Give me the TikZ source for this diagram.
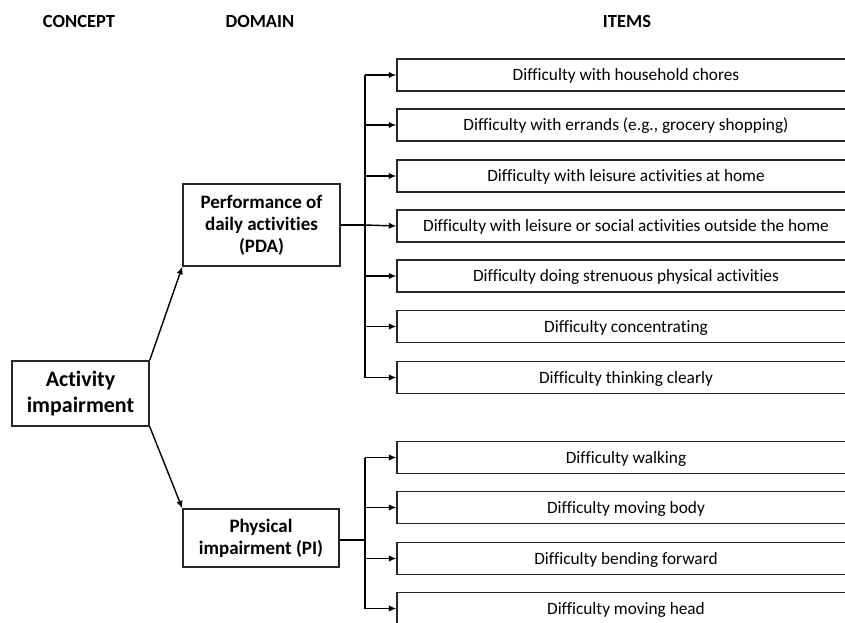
\documentclass[tikz,border=0pt]{standalone}
\usepackage{fontspec}
\setmainfont{Carlito}[Ligatures=CommonOff]
\usepackage{tikz}
\tikzstyle{hd}=[font=\bfseries\fontsize{18.5}{22}\selectfont]
\tikzstyle{cbox}=[shape=rectangle,
                draw=black!85,
                line width=1.4pt,
                align=center,
                font=\bfseries\fontsize{22}{26}\selectfont]
\tikzstyle{dbox}=[shape=rectangle,
                draw=black!85,
                line width=1.4pt,
                align=center,
                inner sep=0pt,
                font=\bfseries\fontsize{19}{22}\selectfont]
\tikzstyle{ibox}=[shape=rectangle,
                draw=black!85,
                line width=1.4pt,
                minimum width=458pt,
                minimum height=32pt,
                inner sep=0pt,
                text height=12pt,
                text depth=0.5pt,
                font=\fontsize{17.3}{20}\selectfont]
\usetikzlibrary{positioning, calc, arrows.meta}

\begin{document}
\begin{tikzpicture}[>={Latex[length=7.5pt, width=6.5pt]}, line width=1.4pt, x=1pt, y=-1pt]
\useasboundingbox (0,0) rectangle (845,623);

% headings
\node[hd] (hconcept) at (79,21) {CONCEPT};
\node[hd] (hdomain) at (260,21) {DOMAIN};
\node[hd] (hitems) at (627,21) {ITEMS};

% concept and domains
\node[cbox, minimum width=137pt, minimum height=65pt] (act) at (80.5,393.5) {Activity\\impairment};
\node[dbox, minimum width=157pt, minimum height=82pt] (pda) at (261.5,225) {Performance of\\daily activities\\(PDA)};
\node[dbox, minimum width=156pt, minimum height=58pt] (pi) at (261,538) {Physical\\impairment (PI)};

% items
\node[ibox] (i1) at (626,75)  {Difficulty with household chores};
\node[ibox] (i2) at (626,125) {Difficulty with errands (e.g., grocery shopping)};
\node[ibox] (i3) at (626,176) {Difficulty with leisure activities at home};
\node[ibox] (i4) at (626,226) {Difficulty with leisure or social activities outside the home};
\node[ibox] (i5) at (626,276) {Difficulty doing strenuous physical activities};
\node[ibox] (i6) at (626,326.5) {Difficulty concentrating};
\node[ibox] (i7) at (626,377.5) {Difficulty thinking clearly};

\node[ibox] (i8) at (626,457.5)  {Difficulty walking};
\node[ibox] (i9) at (626,507.5)  {Difficulty moving body};
\node[ibox] (i10) at (626,558.5) {Difficulty bending forward};
\node[ibox] (i11) at (626,608.5) {Difficulty moving head};

\coordinate (pdabus) at (365,225);
\coordinate (pibus) at (365,540);

% paths
\draw[->] (act.north east) -- (pda.south west);
\draw[->] (act.south east) -- (pi.north west);

\draw (pda.east) -- (pdabus);
\draw (pdabus |- i1.west) -- (pdabus |- i7.west);
\draw[->] (pdabus |- i1.west) -- (i1.west);
\draw[->] (pdabus |- i2.west) -- (i2.west);
\draw[->] (pdabus |- i3.west) -- (i3.west);
\draw[->] (pdabus) -- (i4.west);
\draw[->] (pdabus |- i5.west) -- (i5.west);
\draw[->] (pdabus |- i6.west) -- (i6.west);
\draw[->] (pdabus |- i7.west) -- (i7.west);

\draw (pi.east |- pibus) -- (pibus);
\draw (pibus |- i8.west) -- (pibus |- i11.west);
\draw[->] (pibus |- i8.west) -- (i8.west);
\draw[->] (pibus |- i9.west) -- (i9.west);
\draw[->] (pibus |- i10.west) -- (i10.west);
\draw[->] (pibus |- i11.west) -- (i11.west);

\end{tikzpicture}
\end{document}
